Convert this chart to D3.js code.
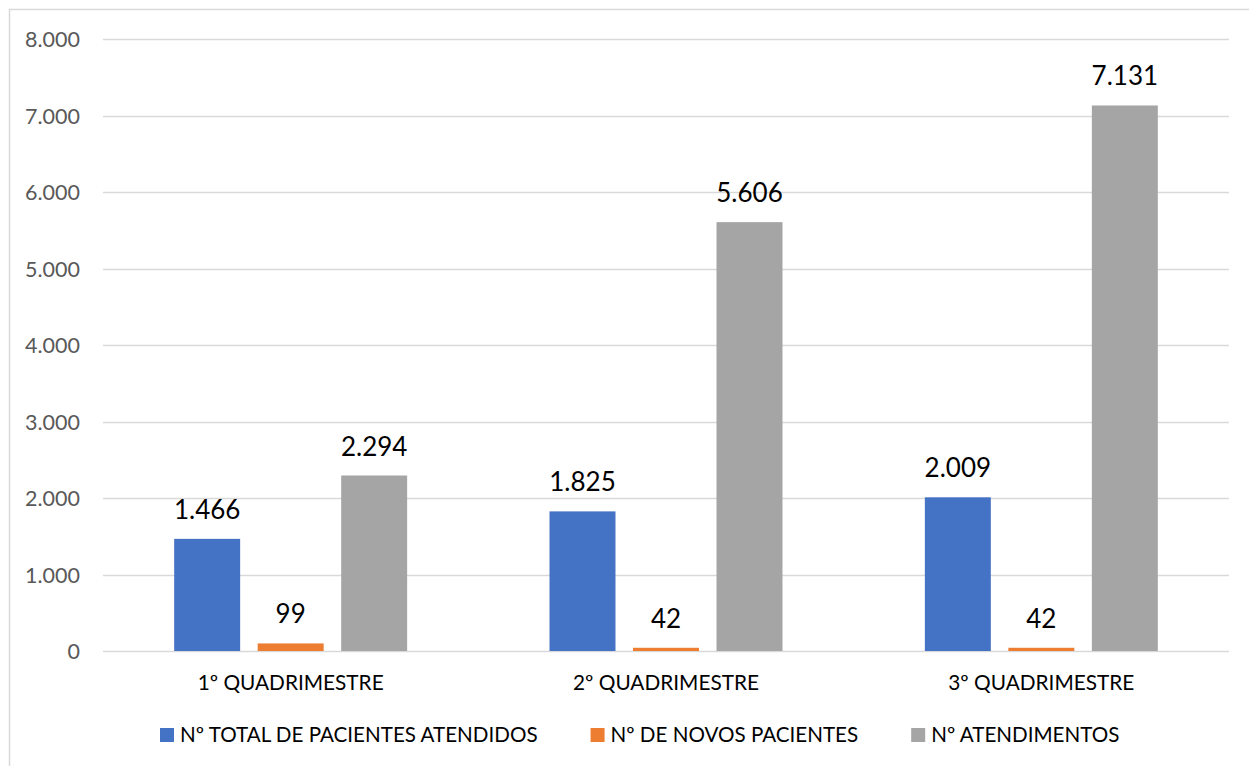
<!DOCTYPE html>
<html><head><meta charset="utf-8">
<script src="https://cdn.jsdelivr.net/npm/d3@7"></script>
<style>
html,body{margin:0;padding:0;background:#fff;overflow:hidden;}
text{font-family:Lato,"Open Sans",sans-serif;}
</style></head>
<body><svg id="chart" width="1249" height="766"></svg>
<script>
const categories = ["1º QUADRIMESTRE", "2º QUADRIMESTRE", "3º QUADRIMESTRE"];
const seriesNames = ["Nº TOTAL DE PACIENTES ATENDIDOS", "Nº DE NOVOS PACIENTES", "Nº ATENDIMENTOS"];
const totalPacientes = [1466, 1825, 2009];
const novosPacientes = [99, 42, 42];
const atendimentos = [2294, 5606, 7131];
const colors = ["#4472C4", "#ED7D31", "#A5A5A5"];
const yTicks = [0, 1000, 2000, 3000, 4000, 5000, 6000, 7000, 8000];

const seriesValues = [totalPacientes, novosPacientes, atendimentos];
const fmt = v => d3.format(",")(v).replace(/,/g, ".");

const svg = d3.select("#chart");
// outer chart border
svg.append("rect").attr("x", 9.5).attr("y", 9.5).attr("width", 1260).attr("height", 780)
  .attr("fill", "none").attr("stroke", "#D9D9D9").attr("stroke-width", 1.5);

const plotLeft = 103, plotRight = 1229, plotTop = 39, plotBottom = 651;
const y = d3.scaleLinear().domain([0, 8000]).range([plotBottom, plotTop]);
const x0 = d3.scaleBand().domain(categories).range([plotLeft, plotRight]).padding(0);
const x1 = d3.scaleBand().domain(seriesNames).range([-125.25, 125.25]).paddingInner(0.21).paddingOuter(0.105);

// gridlines
svg.append("g").selectAll("line").data(yTicks).join("line")
  .attr("x1", plotLeft).attr("x2", plotRight)
  .attr("y1", d => Math.round(y(d)) + 0.5).attr("y2", d => Math.round(y(d)) + 0.5)
  .attr("stroke", "#D9D9D9").attr("stroke-width", 1.3);

// y tick labels
svg.append("g").selectAll("text").data(yTicks).join("text")
  .attr("x", 80).attr("y", d => y(d) + 8)
  .attr("text-anchor", "end").attr("fill", "#595959")
  .style("font-size", "21.5px").text(d => fmt(d));

// bars
const groups = svg.append("g").selectAll("g").data(categories).join("g")
  .attr("transform", d => `translate(${x0(d) + x0.bandwidth() / 2},0)`);
groups.each(function(cat, ci) {
  const g = d3.select(this);
  const data = seriesNames.map((s, si) => ({ s, si, v: seriesValues[si][ci] }));
  g.selectAll("rect").data(data).join("rect")
    .attr("x", d => x1(d.s)).attr("width", x1.bandwidth())
    .attr("y", d => y(d.v)).attr("height", d => y(0) - y(d.v))
    .attr("fill", d => colors[d.si]);
  g.selectAll("text.val").data(data).join("text").attr("class", "val")
    .attr("x", d => x1(d.s) + x1.bandwidth() / 2).attr("y", d => y(d.v) - 20)
    .attr("text-anchor", "middle").attr("fill", "#000")
    .style("font-size", "26px").text(d => fmt(d.v));
});

// category labels
svg.append("g").selectAll("text").data(categories).join("text")
  .attr("x", d => x0(d) + x0.bandwidth() / 2).attr("y", 690)
  .attr("text-anchor", "middle").attr("fill", "#000")
  .style("font-size", "20.8px").text(d => d);

// legend
const lg = svg.append("g");
let lx = 160;
seriesNames.forEach((s, i) => {
  lg.append("rect").attr("x", lx).attr("y", 728).attr("width", 14).attr("height", 14).attr("fill", colors[i]);
  const t = lg.append("text").attr("x", lx + 20).attr("y", 742).attr("fill", "#000")
    .style("font-size", "20.6px").text(s);
  lx += 20 + t.node().getComputedTextLength() + 53;
});
</script></body></html>
